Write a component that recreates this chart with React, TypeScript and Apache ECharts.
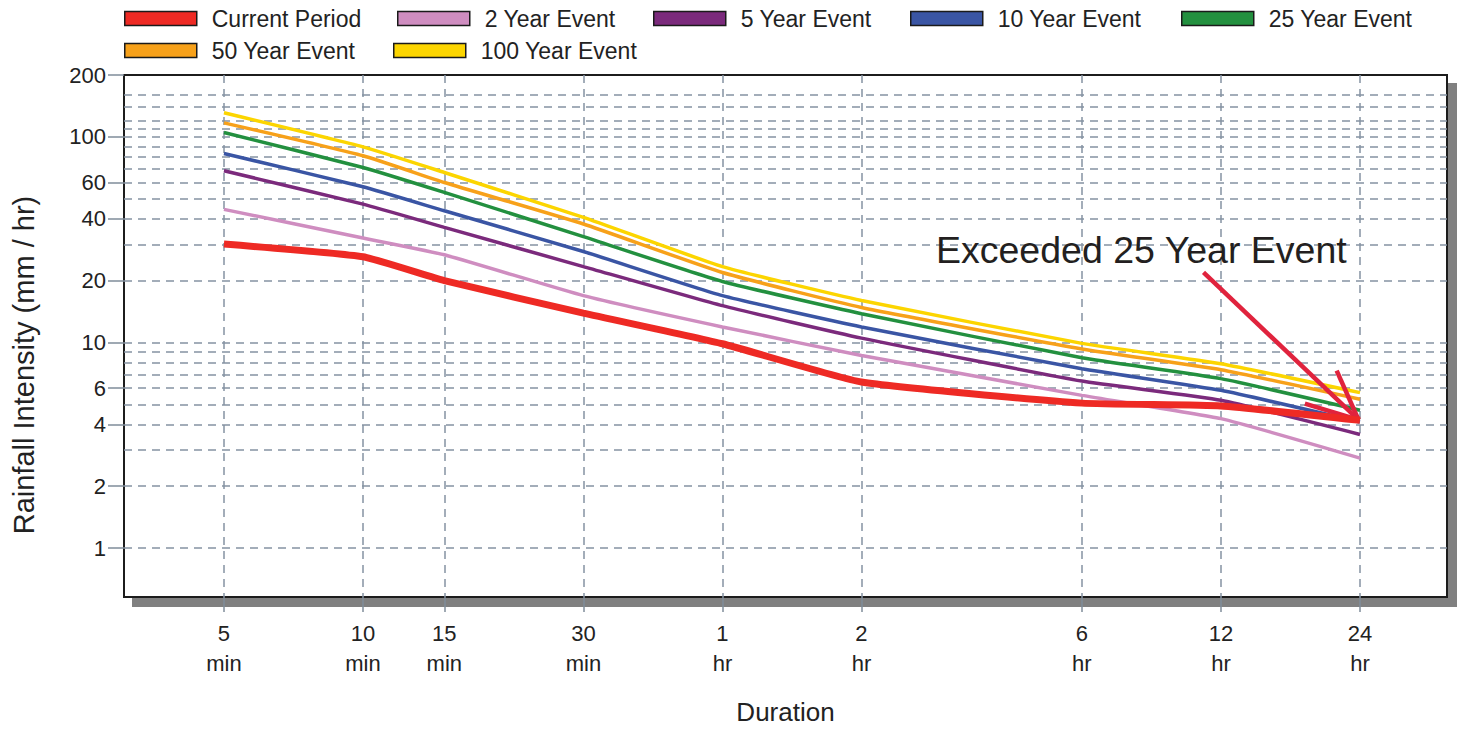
import React, { useEffect, useRef } from "react";
import * as echarts from "echarts";

// Durations in minutes (x axis) and their tick labels
const durations = [5, 10, 15, 30, 60, 120, 360, 720, 1440];
const durationLabels = ["5\nmin", "10\nmin", "15\nmin", "30\nmin", "1\nhr", "2\nhr", "6\nhr", "12\nhr", "24\nhr"];

// Y axis labelled ticks and dashed grid values
const yLabelValues = [1, 2, 4, 6, 10, 20, 40, 60, 100, 200];
const yGridValues = [1, 2, 3, 4, 5, 6, 7, 8, 9, 10, 20, 30, 40, 50, 60, 70, 80, 90, 100, 110, 120, 140, 160];

// Series names
const seriesNames = ["Current Period", "2 Year Event", "5 Year Event", "10 Year Event", "25 Year Event", "50 Year Event", "100 Year Event"];

// Rainfall intensity (mm / hr) at each duration
const currentPeriod = [30.1, 26.1, 20.0, 13.9, 9.86, 6.42, 5.07, 4.91, 4.18];
const year2 = [44.4, 32.2, 26.7, 16.9, 11.9, 8.65, 5.53, 4.26, 2.74];
const year5 = [68.4, 47.1, 36.3, 23.4, 15.1, 10.5, 6.49, 5.23, 3.57];
const year10 = [83, 57.2, 43.7, 27.7, 16.9, 11.9, 7.45, 5.85, 4.1];
const year25 = [105, 71, 53.7, 32.7, 19.8, 13.8, 8.43, 6.67, 4.68];
const year50 = [117, 80.9, 60, 37.7, 21.9, 14.8, 9.3, 7.37, 5.29];
const year100 = [131, 89.4, 67.1, 40.6, 23.4, 16, 9.9, 7.88, 5.7];

// Annotation arrow (data coordinates: [minutes, mm/hr])
const annotationText = "Exceeded 25 Year Event";
const arrowTail = [660, 21.9];
const arrowTip = [1430, 4.2];
const arrowBarbA = [1282, 7.3];
const arrowBarbB = [1094, 5.04];

export default function App() {
  const ref = useRef<HTMLDivElement>(null);

  useEffect(() => {
    if (!ref.current) return;
    document.body.style.margin = "0";
    const chart = echarts.init(ref.current, null, { renderer: "svg" });
    const font = '"Liberation Sans", Arial, sans-serif';
    const values = [currentPeriod, year2, year5, year10, year25, year50, year100];
    const colors = ["#ee2a24", "#cf8dc0", "#7b2a7c", "#3a55a4", "#23903f", "#f7a11a", "#fcd500"];
    const widths = [7, 3.5, 3.5, 3.5, 3.5, 3.5, 3.5];
    const legendLeft = [124, 397, 653, 910, 1181, 124, 393];
    const legendTop = [7, 7, 7, 7, 7, 39, 39];
    const gridLine = { color: "#8593a3", type: [8, 6], width: 1.5 };

    const xLabel = (v: number) => {
      let best = 0;
      let bd = Infinity;
      durations.forEach((d, i) => {
        const dd = Math.abs(Math.log(v / d));
        if (dd < bd) { bd = dd; best = i; }
      });
      return durationLabels[best];
    };

    const series = seriesNames.map((name, i) => {
      const s: any = {
        name,
        type: "line",
        data: durations.map((d, j) => [d, values[i][j]]),
        symbol: "none",
        smooth: 0.15,
        silent: true,
        z: i === 0 ? 5 : 3,
        color: colors[i],
        itemStyle: { color: colors[i] },
        lineStyle: { color: colors[i], width: widths[i] },
        emphasis: { disabled: true },
      };
      if (i === 0) {
        s.markLine = {
          silent: true,
          symbol: ["none", "none"],
          label: { show: false },
          emphasis: { disabled: true },
          lineStyle: { color: "#e0233d", width: 4.5, type: "solid" },
          data: [
            [{ coord: arrowTail }, { coord: arrowTip }],
            [{ coord: arrowBarbA }, { coord: arrowTip }],
            [{ coord: arrowBarbB }, { coord: arrowTip }],
          ],
        };
      }
      return s;
    });

    const option: any = {
      animation: false,
      backgroundColor: "#ffffff",
      textStyle: { fontFamily: font },
      tooltip: { show: false },
      legend: seriesNames.map((name, i) => ({
        show: true,
        data: [name],
        left: legendLeft[i],
        top: legendTop[i],
        padding: 0,
        itemGap: 0,
        icon: "rect",
        itemWidth: 72,
        itemHeight: 14,
        selectedMode: false,
        itemStyle: { borderColor: "#1a1a1a", borderWidth: 1.5 },
        textStyle: { fontSize: 23, color: "#222", fontFamily: font, padding: [0, 0, 0, 10] },
      })),
      grid: {
        left: 124,
        top: 75,
        width: 1323,
        height: 522,
        show: true,
        backgroundColor: "#ffffff",
        borderColor: "#1a1a1a",
        borderWidth: 2,
        shadowColor: "#808080",
        shadowOffsetX: 9,
        shadowOffsetY: 9,
        shadowBlur: 0,
        containLabel: false,
      },
      xAxis: {
        type: "log",
        min: 3.038,
        max: 2222,
        name: "Duration",
        nameLocation: "middle",
        nameGap: 102,
        nameTextStyle: { fontSize: 26, color: "#222", fontFamily: font },
        axisLine: { show: false },
        axisTick: { show: true, customValues: durations, length: 15, lineStyle: { color: "#7f8c9a", width: 1.5 } },
        axisLabel: { customValues: durations, formatter: xLabel, fontSize: 22, lineHeight: 30, color: "#222", margin: 21, fontFamily: font },
        splitLine: { show: true, lineStyle: gridLine },
        minorTick: { show: false },
        minorSplitLine: { show: false },
      },
      yAxis: [
        {
          type: "log",
          min: 0.578,
          max: 200,
          name: "Rainfall Intensity (mm / hr)",
          nameLocation: "middle",
          nameGap: 86,
          nameTextStyle: { fontSize: 29, color: "#222", fontFamily: font, padding: [0, 58, 0, 0] },
          axisLine: { show: false },
          axisTick: { show: true, customValues: yLabelValues, length: 16, lineStyle: { color: "#7f8c9a", width: 1.5 } },
          axisLabel: {
            customValues: yLabelValues,
            fontSize: 22,
            color: "#222",
            margin: 18,
            fontFamily: font,
            formatter: (v: number) => String(Math.round(v)),
          },
          splitLine: { show: false },
        },
        {
          type: "log",
          min: 0.578,
          max: 200,
          position: "left",
          axisLine: { show: false },
          axisTick: { show: false, customValues: yGridValues },
          axisLabel: { show: false, customValues: yGridValues },
          splitLine: { show: true, lineStyle: gridLine },
        },
      ],
      graphic: [
        {
          type: "text",
          x: 936,
          y: 250,
          z: 100,
          silent: true,
          style: {
            text: annotationText,
            fontSize: 37.5,
            fontFamily: font,
            fill: "#231f20",
            verticalAlign: "middle",
          },
        },
      ],
      series,
    };

    chart.setOption(option);
    return () => chart.dispose();
  }, []);

  return <div ref={ref} style={{ width: 1460, height: 730, background: "#fff" }} />;
}
